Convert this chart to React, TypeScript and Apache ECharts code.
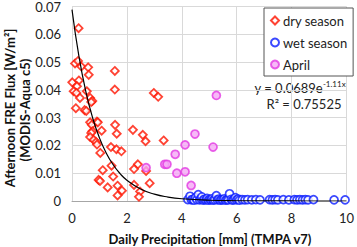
import React, { useEffect, useRef } from "react";
import * as echarts from "echarts";

const drySeason: [number, number][] = [
  [0.24, 0.0622], [0.11, 0.0495], [0.22, 0.0504], [0.34, 0.0484], [0.59, 0.0481], [0.61, 0.0454],
  [1.56, 0.0468], [1.56, 0.0401], [0.01, 0.0427], [0.25, 0.0434], [0.18, 0.0413], [0.06, 0.0395],
  [0.16, 0.0389], [0.29, 0.0371], [0.54, 0.0395], [0.66, 0.0371], [0.74, 0.036], [0.7, 0.0356],
  [0.14, 0.0334], [0.46, 0.0327], [0.52, 0.0324], [2.98, 0.0389], [3.14, 0.0375],
  [0.91, 0.0286], [0.66, 0.0283], [0.72, 0.0274], [0.94, 0.0283], [1.08, 0.0253], [0.74, 0.0251],
  [0.7, 0.0245], [0.66, 0.023], [0.79, 0.022], [0.88, 0.0212], [0.91, 0.0203], [1.03, 0.0173],
  [1.42, 0.0194], [1.57, 0.0274], [1.63, 0.0242], [1.62, 0.0186], [1.8, 0.0179],
  [2.22, 0.0256], [2.58, 0.0238], [2.68, 0.0215], [3.34, 0.0218],
  [2.4, 0.0132], [2.26, 0.0115], [2.7, 0.0108], [1.12, 0.0111], [1.44, 0.0127], [1.5, 0.0088],
  [0.97, 0.0076], [1.02, 0.0072], [2.83, 0.0064], [2.26, 0.0058], [1.3, 0.0049], [1.66, 0.0055],
  [1.82, 0.0037], [1.66, 0.002], [2.48, 0.0034], [2.44, 0.0015],
];

const wetSeason: [number, number][] = [
  [4.22, 0.0005], [4.3, 0.0017], [4.35, 0.0004], [4.4, 0.0006], [4.45, 0.0003], [4.5, 0.0012],
  [4.55, 0.0005], [4.6, 0.0023], [4.65, 0.0004], [4.7, 0.0008], [4.73, 0.0015], [4.78, 0.0003],
  [4.82, 0.0006], [4.88, 0.0004], [4.92, 0.0009], [4.97, 0.0003], [5.02, 0.0006], [5.06, 0.0004],
  [5.1, 0.0008], [5.15, 0.0003], [5.2, 0.0005], [5.26, 0.0019], [5.3, 0.0004], [5.35, 0.0007],
  [5.4, 0.0003], [5.45, 0.0005], [5.5, 0.0004], [5.55, 0.0008], [5.6, 0.0003], [5.65, 0.0005],
  [5.7, 0.0004], [5.74, 0.0026], [5.8, 0.0006], [5.85, 0.0003], [5.9, 0.0005], [5.95, 0.0012],
  [6.0, 0.0004], [6.05, 0.0007], [6.1, 0.0003], [6.2, 0.0005], [6.3, 0.0004], [6.4, 0.0005],
  [6.55, 0.0004], [6.7, 0.0005], [6.85, 0.0004], [7.2, 0.0005], [7.3, 0.0004], [7.4, 0.0005],
  [7.5, 0.0004], [7.7, 0.0005], [7.9, 0.0004], [8.1, 0.0005], [8.2, 0.0004], [8.3, 0.0005],
  [8.4, 0.0004], [8.5, 0.0005], [8.6, 0.0004], [8.8, 0.0005], [9.55, 0.0004], [9.95, 0.0004],
];

const april: [number, number][] = [
  [2.7, 0.012], [3.38, 0.0132], [3.46, 0.0132], [3.76, 0.0168], [3.82, 0.01], [4.12, 0.0202],
  [4.12, 0.0105], [4.34, 0.0056], [4.48, 0.0241], [5.14, 0.0194], [5.26, 0.038],
];

// Trendline shown in the chart: y = 0.0689 e^(-1.11x)
const trendA = 0.0689;
const trendB = -1.11;
const trendXs = [0, 0.25, 0.5, 0.75, 1, 1.25, 1.5, 1.75, 2, 2.5, 3, 3.5, 4, 5, 6, 7, 8, 9, 10];

const xTicks = [0, 2, 4, 6, 8, 10];
const yTicks = [0, 0.01, 0.02, 0.03, 0.04, 0.05, 0.06, 0.07];

const FONT = "Lato";

export default function App() {
  const ref = useRef<HTMLDivElement>(null);
  useEffect(() => {
    if (!ref.current) return;
    const chart = echarts.init(ref.current, null, { renderer: "svg" });
    const trend = trendXs.map((x) => [x, trendA * Math.exp(trendB * x)]);
    chart.setOption({
      animation: false,
      textStyle: { fontFamily: FONT },
      grid: { left: 72, right: 7, top: 4, bottom: 46 },
      xAxis: {
        type: "value",
        min: xTicks[0],
        max: xTicks[xTicks.length - 1],
        interval: 2,
        axisLine: { show: true, lineStyle: { color: "#a6a6a6" } },
        axisTick: { show: false },
        axisLabel: { color: "#222", fontSize: 13, fontFamily: FONT, margin: 10 },
        splitLine: { show: true, lineStyle: { color: "#d9d9d9" } },
      },
      yAxis: {
        type: "value",
        min: yTicks[0],
        max: yTicks[yTicks.length - 1],
        interval: 0.01,
        axisLine: { show: false },
        axisTick: { show: false },
        axisLabel: { color: "#222", fontSize: 13, fontFamily: FONT, margin: 11 },
        splitLine: { show: true, lineStyle: { color: "#d9d9d9" } },
      },
      legend: {
        orient: "vertical",
        left: 264,
        top: 8,
        width: 76,
        padding: [6, 6, 5, 6],
        itemGap: 9,
        itemWidth: 8,
        itemHeight: 8,
        backgroundColor: "#fff",
        borderColor: "#555",
        borderWidth: 1,
        borderRadius: 0,
        textStyle: { fontSize: 13, color: "#222", fontFamily: FONT, padding: [0, 0, 0, -1] },
        data: ["dry season", "wet season", "April"],
      },
      series: [
        {
          name: "dry season",
          type: "scatter",
          symbol: "diamond",
          symbolSize: 8,
          data: drySeason,
          itemStyle: { color: "#fff", borderColor: "#ff1400", borderWidth: 1.8 },
        },
        {
          name: "wet season",
          type: "scatter",
          symbol: "circle",
          symbolSize: 8,
          data: wetSeason,
          itemStyle: { color: "#fff", borderColor: "#0a1cff", borderWidth: 1.7 },
        },
        {
          name: "April",
          type: "scatter",
          symbol: "circle",
          symbolSize: 8,
          data: april,
          itemStyle: { color: "#f5a8f5", borderColor: "#e23ae2", borderWidth: 1.7 },
        },
        {
          name: "trend",
          type: "line",
          smooth: true,
          showSymbol: false,
          data: trend,
          lineStyle: { color: "#000", width: 1.2 },
          z: 5,
        },
      ],
      graphic: [
        {
          type: "text",
          x: 300,
          y: 88,
          style: {
            text: "{a|y = 0.0689e}{s|-1.11x}",
            align: "center",
            verticalAlign: "middle",
            fill: "#222",
            rich: {
              a: { fontSize: 13, fontFamily: FONT, lineHeight: 16, fill: "#222" },
              s: { fontSize: 8, fontFamily: FONT, lineHeight: 8, verticalAlign: "top", fill: "#222" },
            },
          },
        },
        {
          type: "text",
          x: 304,
          y: 104,
          style: {
            text: "R² = 0.75525",
            align: "center",
            verticalAlign: "middle",
            fontSize: 13,
            fontFamily: FONT,
            fill: "#222",
          },
        },
        {
          type: "text",
          x: 210,
          y: 239,
          style: {
            text: "Daily Precipitation [mm] (TMPA v7)",
            align: "center",
            verticalAlign: "middle",
            fontSize: 13,
            fontWeight: "bold",
            fontFamily: FONT,
            fill: "#111",
          },
        },
        {
          type: "text",
          x: 10,
          y: 108,
          rotation: Math.PI / 2,
          style: {
            text: "Afternoon FRE Flux [W/m²]",
            align: "center",
            verticalAlign: "middle",
            fontSize: 13,
            fontWeight: "bold",
            fontFamily: FONT,
            fill: "#111",
          },
        },
        {
          type: "text",
          x: 25,
          y: 110,
          rotation: Math.PI / 2,
          style: {
            text: "(MODIS-Aqua c5)",
            align: "center",
            verticalAlign: "middle",
            fontSize: 13,
            fontWeight: "bold",
            fontFamily: FONT,
            fill: "#111",
          },
        },
      ],
    });
    return () => chart.dispose();
  }, []);
  return (
    <div
      ref={ref}
      style={{ position: "fixed", left: 0, top: 0, width: 357, height: 247, background: "#fff" }}
    />
  );
}
